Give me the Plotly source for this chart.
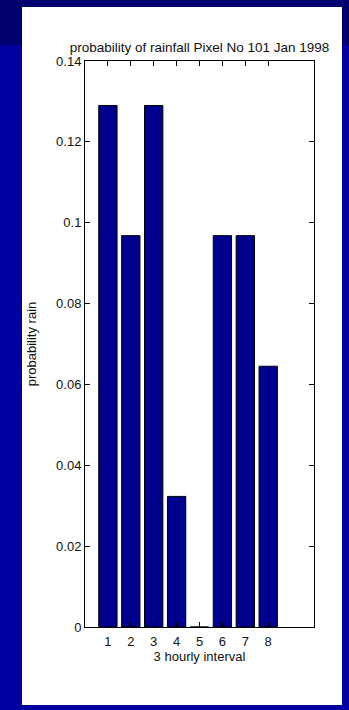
import plotly.graph_objects as go

intervals = [1, 2, 3, 4, 5, 6, 7, 8]
probability = [0.129, 0.0968, 0.129, 0.0323, 0.0, 0.0968, 0.0968, 0.0645]
y_ticks = [0, 0.02, 0.04, 0.06, 0.08, 0.1, 0.12, 0.14]
y_tick_labels = ["0", "0.02", "0.04", "0.06", "0.08", "0.1", "0.12", "0.14"]
x_ticks = [1, 2, 3, 4, 5, 6, 7, 8]
x_tick_labels = ["1", "2", "3", "4", "5", "6", "7", "8"]

W, H = 349, 710
L, R, T, B = 85, 35, 61, 83
pw, ph = W - L - R, H - T - B

def px(x):
    return (x - L) / pw

def py(y):
    return (H - B - y) / ph

font = dict(family="Liberation Sans, Arial, sans-serif", size=13, color="#111111")
title_font = dict(family="Liberation Sans, Arial, sans-serif", size=13.5, color="#111111")

fig = go.Figure(go.Bar(
    x=intervals, y=probability, width=0.8,
    marker=dict(color="#00008F", line=dict(color="black", width=1)),
))

shapes = [
    dict(type="rect", xref="paper", yref="paper", x0=px(0), x1=px(W), y0=py(0), y1=py(45),
         fillcolor="#000070", line=dict(width=0), layer="below"),
    dict(type="rect", xref="paper", yref="paper", x0=px(22), x1=px(342), y0=py(7), y1=py(705),
         fillcolor="white", line=dict(width=0), layer="below"),
]

fig.update_layout(
    width=W, height=H,
    margin=dict(l=L, r=R, t=T, b=B),
    paper_bgcolor="#0000A0",
    plot_bgcolor="white",
    shapes=shapes,
    showlegend=False,
    font=font,
    title=dict(text="probability of rainfall Pixel No 101 Jan 1998", xref="container", yref="container",
               x=199.5 / W, xanchor="center", y=1 - 47 / H, yanchor="middle", font=title_font),
    xaxis=dict(range=[0, 10], tickvals=x_ticks, ticktext=x_tick_labels, ticks="inside", ticklen=5,
               showline=True, linecolor="black", linewidth=1, mirror="ticks", showgrid=False,
               zeroline=False, tickcolor="black", ticklabelstandoff=2,
               title=dict(text="3 hourly interval", font=font, standoff=2)),
    yaxis=dict(range=[0, 0.14], tickvals=y_ticks, ticktext=y_tick_labels, ticks="inside", ticklen=5,
               showline=True, linecolor="black", linewidth=1, mirror="ticks", showgrid=False,
               zeroline=False, tickcolor="black", title=dict(text="probability rain", font=font, standoff=16)),
)

fig.write_html("out.html")
